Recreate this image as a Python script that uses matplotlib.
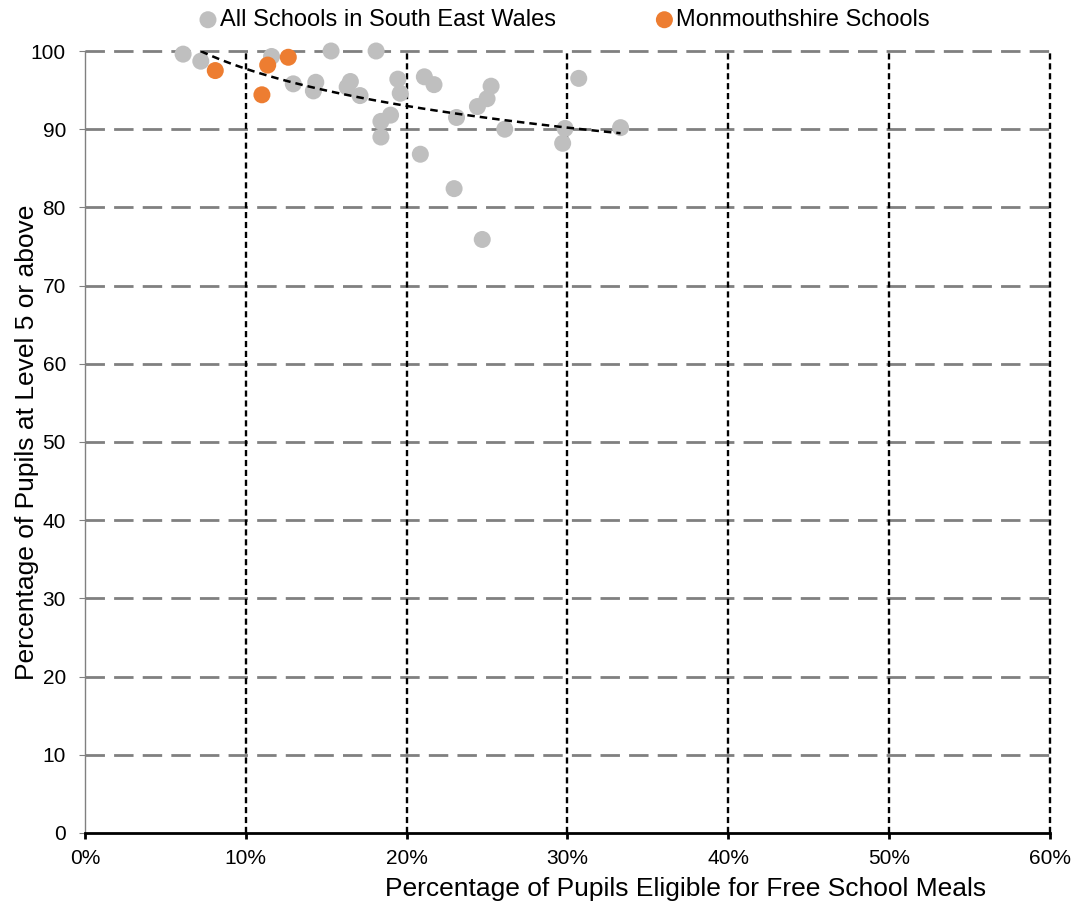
import numpy as np
import matplotlib
matplotlib.use('Agg')
import matplotlib.pyplot as plt
from matplotlib.ticker import FuncFormatter

plt.rcParams['font.family'] = ['Liberation Sans', 'DejaVu Sans']

# all schools in South East Wales (FSM %, % at level 5+)
all_fsm = [6.1, 7.2, 11.6, 15.3, 18.1, 12.95, 14.35, 14.2, 16.5, 16.3, 17.1,
           19.45, 19.6, 21.1, 21.7, 19.0, 18.4, 18.4, 20.85, 22.95, 24.7,
           23.1, 24.4, 25.0, 25.25, 26.1, 29.85, 29.7, 30.7, 33.3]
all_l5 = [99.6, 98.7, 99.3, 100.0, 100.0, 95.8, 96.0, 94.9, 96.1, 95.4, 94.3,
          96.4, 94.6, 96.7, 95.7, 91.8, 91.0, 89.0, 86.8, 82.4, 75.9,
          91.5, 92.9, 93.9, 95.5, 90.0, 90.1, 88.2, 96.5, 90.2]

# Monmouthshire schools
mon_fsm = [8.1, 11.36, 12.64, 11.0]
mon_l5 = [97.5, 98.2, 99.2, 94.4]

# log trendline: y = a + b*ln(x)
trend_a = 113.5
trend_b = -6.85
trend_range = (7.2, 33.3)

fig = plt.figure(figsize=(10.76, 9.06), dpi=100)
ax = fig.add_axes([0.079, 0.0806, 0.8968, 0.8631])

ax.set_xlim(0, 60)
ax.set_ylim(0, 100)
ax.set_xticks(np.arange(0, 61, 10))
ax.set_yticks(np.arange(0, 101, 10))
ax.xaxis.set_major_formatter(FuncFormatter(lambda v, p: f'{v:.0f}%'))

# gridlines
for yv in np.arange(10, 101, 10):
    ax.axhline(yv, color='#808080', lw=2.0, dashes=(7, 3.3), zorder=1, clip_on=False)
for xv in np.arange(10, 61, 10):
    ax.axvline(xv, color='black', lw=1.7, dashes=(2.6, 1.6), zorder=1, clip_on=False)

ax.scatter(all_fsm, all_l5, s=150, color='#BFBFBF', edgecolors='none', zorder=3,
           label='All Schools in South East Wales', clip_on=False)
ax.scatter(mon_fsm, mon_l5, s=150, color='#ED7D31', edgecolors='none', zorder=4,
           label='Monmouthshire Schools', clip_on=False)

tx = np.linspace(trend_range[0], trend_range[1], 100)
ax.plot(tx, trend_a + trend_b * np.log(tx), color='black', lw=1.8, dashes=(3, 2), zorder=5)

for s in ['top', 'right']:
    ax.spines[s].set_visible(False)
ax.spines['left'].set_color('#808080')
ax.spines['left'].set_linewidth(1)
ax.spines['bottom'].set_color('black')
ax.spines['bottom'].set_linewidth(2)
ax.spines['bottom'].set_zorder(6)
ax.tick_params(axis='y', length=4.5, color='#808080', labelsize=15, pad=9.2)
ax.tick_params(axis='x', length=4.5, width=2, color='black', labelsize=15, pad=7)

ax.set_xlabel('Percentage of Pupils Eligible for Free School Meals', fontsize=19)
ax.set_ylabel('Percentage of Pupils at Level 5 or above', fontsize=19)
ax.xaxis.set_label_coords(0.622, -0.0716)
ax.yaxis.set_label_coords(-0.060, 0.5)
ax.xaxis.label.set_va('center')
ax.yaxis.label.set_va('center')

fig.legend(loc='center', bbox_to_anchor=(563 / 1076, 0.978), ncol=2, frameon=False,
           fontsize=17, handlelength=1.0, handletextpad=0.0, columnspacing=4.1,
           markerscale=1.0, borderaxespad=0, borderpad=0)

fig.savefig('out.png', dpi=100)
